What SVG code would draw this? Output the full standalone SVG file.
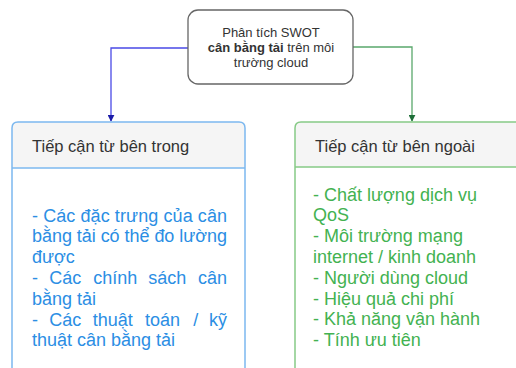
<svg xmlns="http://www.w3.org/2000/svg" width="516" height="368" viewBox="0 0 516 368">
  <style>
    text { font-family: "Liberation Sans", Arial, sans-serif; }
    .root-box { fill: #ffffff; stroke: #666666; stroke-width: 1.3; }
    .root-text { font-size: 13px; fill: #333333; text-anchor: middle; }
    .head-text { font-size: 16.5px; fill: #333333; }
    .head { fill: #f5f5f5; }
    .body-in { font-size: 18px; fill: #2b8ee4; }
    .body-out { font-size: 18px; fill: #43b251; }
    .edge-in { fill: none; stroke: #4a4ae6; stroke-width: 1.3; }
    .edge-out { fill: none; stroke: #5aa86c; stroke-width: 1.3; }
  </style>
  <defs>
    <marker id="arrow-in" viewBox="0 0 10 10" refX="9" refY="5" markerWidth="7" markerHeight="7" markerUnits="userSpaceOnUse" orient="auto">
      <path d="M0,0 L10,5 L0,10 Z" fill="#1c1ca8"/>
    </marker>
    <marker id="arrow-out" viewBox="0 0 10 10" refX="9" refY="5" markerWidth="7" markerHeight="7" markerUnits="userSpaceOnUse" orient="auto">
      <path d="M0,0 L10,5 L0,10 Z" fill="#1e6e38"/>
    </marker>
  </defs>

  <rect width="516" height="368" fill="#ffffff"/>

  <!-- connectors -->
  <g id="connectors">
    <path class="edge-in" d="M188,48 H111 V121" marker-end="url(#arrow-in)"/>
    <path class="edge-out" d="M353,47 H412 V121" marker-end="url(#arrow-out)"/>
  </g>

  <!-- root node -->
  <g id="root">
    <rect class="root-box" x="188" y="10" width="165" height="74" rx="10"/>
    <text class="root-text" x="271" y="37">Phân tích SWOT</text>
    <text class="root-text" x="271" y="52"><tspan font-weight="bold">cân bằng tải</tspan> trên môi</text>
    <text class="root-text" x="271" y="67">trường cloud</text>
  </g>

  <!-- inner approach -->
  <g id="inner">
    <path class="head" d="M12,168 V128 Q12,122 18,122 H239 Q245,122 245,128 V168 Z"/>
    <path d="M12,380 V128 Q12,122 18,122 H239 Q245,122 245,128 V380" fill="none" stroke="#7cb8ef" stroke-width="1.5"/>
    <line x1="12" y1="168" x2="245" y2="168" stroke="#7cb8ef" stroke-width="1.5"/>
    <text class="head-text" x="32" y="152">Tiếp cận từ bên trong</text>
    <text class="body-in" x="32" y="221.5" textLength="195" lengthAdjust="spacing">- Các đặc trưng của cân</text>
    <text class="body-in" x="32" y="242.3" textLength="195" lengthAdjust="spacing">bằng tải có thể đo lường</text>
    <text class="body-in" x="32" y="263.1">được</text>
    <text class="body-in" y="283.9"><tspan x="32">-</tspan><tspan x="49.3">Các</tspan><tspan x="93.3">chính</tspan><tspan x="148.3">sách</tspan><tspan x="227" text-anchor="end">cân</tspan></text>
    <text class="body-in" x="32" y="304.7">bằng tải</text>
    <text class="body-in" y="325.5"><tspan x="32">-</tspan><tspan x="49.3">Các</tspan><tspan x="92.7">thuật</tspan><tspan x="145">toán</tspan><tspan x="193.3">/</tspan><tspan x="227" text-anchor="end">kỹ</tspan></text>
    <text class="body-in" x="32" y="346.3">thuật cân bằng tải</text>
  </g>

  <!-- outer approach -->
  <g id="outer">
    <path class="head" d="M295,167 V128 Q295,122 301,122 H530 V167 Z"/>
    <path d="M295,380 V128 Q295,122 301,122 H530" fill="none" stroke="#86ca86" stroke-width="1.5"/>
    <line x1="295" y1="167" x2="530" y2="167" stroke="#86ca86" stroke-width="1.5"/>
    <text class="head-text" x="315" y="152">Tiếp cận từ bên ngoài</text>
    <text class="body-out" x="313" y="200.5">- Chất lượng dịch vụ</text>
    <text class="body-out" x="313" y="221.3">QoS</text>
    <text class="body-out" x="313" y="242.1">- Môi trường mạng</text>
    <text class="body-out" x="313" y="262.9">internet / kinh doanh</text>
    <text class="body-out" x="313" y="283.7">- Người dùng cloud</text>
    <text class="body-out" x="313" y="304.5">- Hiệu quả chi phí</text>
    <text class="body-out" x="313" y="325.3">- Khả năng vận hành</text>
    <text class="body-out" x="313" y="346.1">- Tính ưu tiên</text>
  </g>
</svg>
